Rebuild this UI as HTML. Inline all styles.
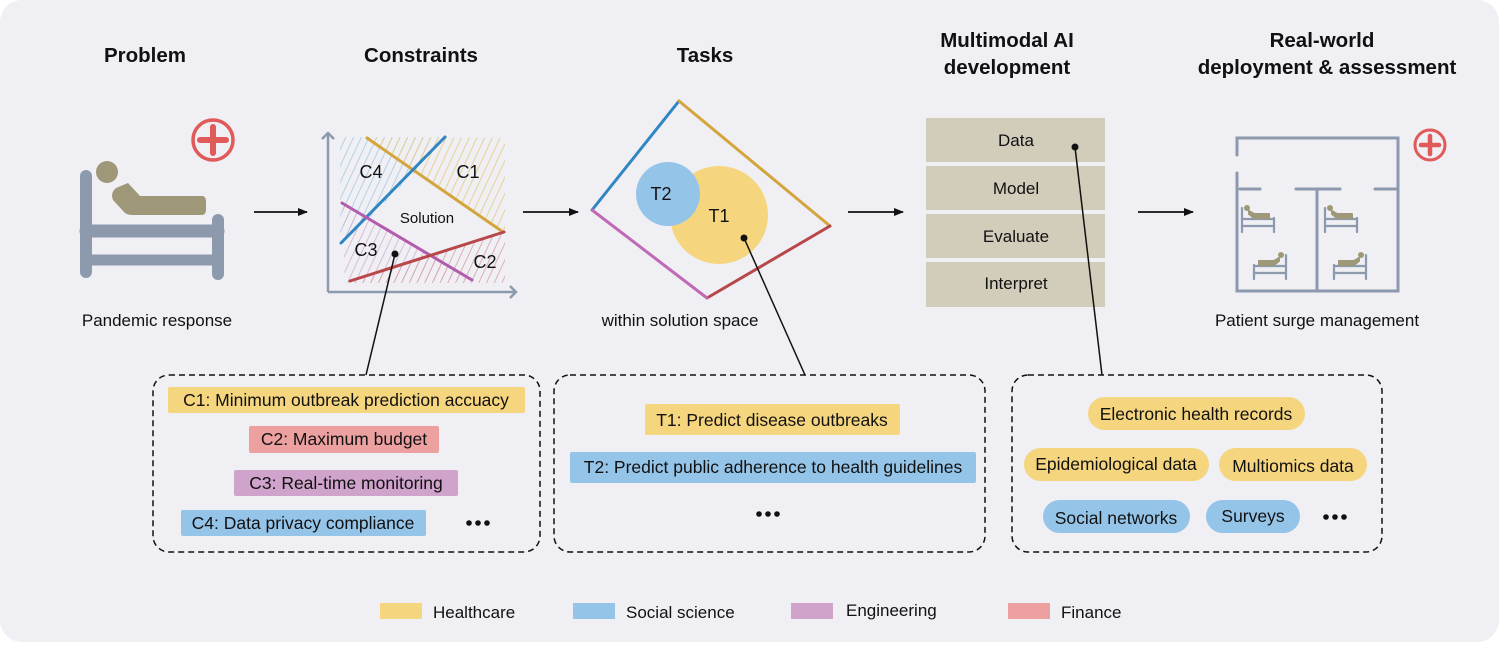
<!DOCTYPE html>
<html><head><meta charset="utf-8"><style>
html,body{margin:0;padding:0;background:#fff;}
svg{display:block;font-family:"Liberation Sans",Arial,sans-serif;}
</style></head><body>
<svg width="1499" height="650" viewBox="0 0 1499 650" xmlns="http://www.w3.org/2000/svg">
<defs>
<pattern id="hY" width="7" height="7" patternUnits="userSpaceOnUse" patternTransform="rotate(25)"><line x1="0" y1="0" x2="0" y2="7" stroke="#e6cf8f" stroke-width="1.6"/></pattern>
<pattern id="hB" width="7" height="7" patternUnits="userSpaceOnUse" patternTransform="rotate(25)"><line x1="0" y1="0" x2="0" y2="7" stroke="#a6c9e4" stroke-width="1.6"/></pattern>
<pattern id="hP" width="7" height="7" patternUnits="userSpaceOnUse" patternTransform="rotate(25)"><line x1="0" y1="0" x2="0" y2="7" stroke="#d6aed3" stroke-width="1.6"/></pattern>
<pattern id="hR" width="7" height="7" patternUnits="userSpaceOnUse" patternTransform="rotate(25)"><line x1="0" y1="0" x2="0" y2="7" stroke="#d8a0a8" stroke-width="1.6"/></pattern>
<marker id="ar" markerWidth="10" markerHeight="8" refX="9" refY="4" orient="auto" markerUnits="userSpaceOnUse"><path d="M0,0 L10,4 L0,8 Z" fill="#111"/></marker>
<marker id="ax" markerWidth="14" markerHeight="14" refX="7" refY="7" orient="auto" markerUnits="userSpaceOnUse"><path d="M1,1 L7,7 L1,13" fill="none" stroke="#8d9aae" stroke-width="2.5"/></marker>
</defs>
<rect x="0" y="0" width="1499" height="642" rx="22" fill="#efeff4"/>

<g font-weight="bold" font-size="20.5" fill="#111" text-anchor="middle">
<text x="145" y="62">Problem</text>
<text x="421" y="62">Constraints</text>
<text x="705" y="62">Tasks</text>
<text x="1007" y="47">Multimodal AI</text>
<text x="1007" y="74">development</text>
<text x="1322" y="47">Real-world</text>
<text x="1327" y="74">deployment &amp; assessment</text>
</g>

<!-- Problem icon -->
<circle cx="213" cy="140" r="20" fill="none" stroke="#e05a5a" stroke-width="3.5"/>
<line x1="200" y1="140" x2="226" y2="140" stroke="#e05a5a" stroke-width="6" stroke-linecap="round"/>
<line x1="213" y1="127" x2="213" y2="153" stroke="#e05a5a" stroke-width="6" stroke-linecap="round"/>
<g stroke="#8d9aae" stroke-linecap="round" fill="none">
<line x1="86" y1="176" x2="86" y2="272" stroke-width="12"/>
<line x1="218" y1="220" x2="218" y2="274" stroke-width="12"/>
<line x1="86" y1="231" x2="218" y2="231" stroke-width="13"/>
<line x1="86" y1="260" x2="218" y2="260" stroke-width="11"/>
</g>
<circle cx="107" cy="172" r="11" fill="#9e9878"/>
<path d="M116,188 L128,183 L140,196 L202,196 Q206,196 206,202 L206,210 Q206,215 201,215 L132,215 Q127,215 124,212 L113,200 Q110,193 116,188 Z" fill="#9e9878"/>
<text x="157" y="326" font-size="17" text-anchor="middle" fill="#111">Pandemic response</text>

<!-- arrows -->
<g stroke="#111" stroke-width="1.8" marker-end="url(#ar)">
<line x1="254" y1="212" x2="307" y2="212"/>
<line x1="523" y1="212" x2="578" y2="212"/>
<line x1="848" y1="212" x2="903" y2="212"/>
<line x1="1138" y1="212" x2="1193" y2="212"/>
</g>

<!-- Constraints chart -->
<polygon points="340,137 450,137 345,243 340,243" fill="url(#hB)"/>
<polygon points="367,138 505,138 505,232 " fill="url(#hY)"/>
<polygon points="345,137 505,137 505,232 367,138" fill="url(#hY)" opacity="0.5"/>
<polygon points="342,203 472,280 345,283" fill="url(#hP)"/>
<polygon points="350,283 505,232 505,283" fill="url(#hR)"/>
<g stroke-width="3" stroke-linecap="round">
<line x1="367" y1="138" x2="503" y2="232" stroke="#d4a53c"/>
<line x1="341" y1="243" x2="445" y2="137" stroke="#2f86c0"/>
<line x1="342" y1="203" x2="472" y2="280" stroke="#b35bac"/>
<line x1="350" y1="281" x2="504" y2="232" stroke="#b8474a"/>
</g>
<line x1="328" y1="292" x2="328" y2="133" stroke="#8d9aae" stroke-width="2.5" marker-end="url(#ax)"/>
<line x1="328" y1="292" x2="516" y2="292" stroke="#8d9aae" stroke-width="2.5" marker-end="url(#ax)"/>
<g font-size="18" fill="#111" text-anchor="middle">
<text x="371" y="178">C4</text><text x="468" y="178">C1</text>
<text x="366" y="256">C3</text><text x="485" y="268">C2</text>
</g>
<text x="427" y="223" font-size="15" text-anchor="middle" fill="#111">Solution</text>
<circle cx="395" cy="254" r="3.5" fill="#111"/>
<line x1="395" y1="254" x2="366" y2="375" stroke="#111" stroke-width="1.5"/>

<!-- Tasks -->
<g stroke-width="3" stroke-linecap="round">
<line x1="592" y1="210" x2="679" y2="101" stroke="#2f86c0"/>
<line x1="679" y1="101" x2="830" y2="226" stroke="#d4a53c"/>
<line x1="830" y1="226" x2="707" y2="298" stroke="#b8474a"/>
<line x1="707" y1="298" x2="592" y2="210" stroke="#c069b5"/>
</g>
<circle cx="719" cy="215" r="49" fill="#f5d67e"/>
<circle cx="668" cy="194" r="32" fill="#95c4e9"/>
<text x="661" y="200" font-size="18" text-anchor="middle" fill="#111">T2</text>
<text x="719" y="222" font-size="18" text-anchor="middle" fill="#111">T1</text>
<circle cx="744" cy="238" r="3.5" fill="#111"/>
<line x1="744" y1="238" x2="805" y2="375" stroke="#111" stroke-width="1.5"/>
<text x="680" y="326" font-size="17" text-anchor="middle" fill="#111">within solution space</text>

<!-- Multimodal -->
<g fill="#d2ccbb">
<rect x="926" y="118" width="179" height="44"/>
<rect x="926" y="166" width="179" height="44"/>
<rect x="926" y="214" width="179" height="44"/>
<rect x="926" y="262" width="179" height="45"/>
</g>
<g font-size="17" fill="#111" text-anchor="middle">
<text x="1016" y="146">Data</text><text x="1016" y="194">Model</text>
<text x="1016" y="242">Evaluate</text><text x="1016" y="289">Interpret</text>
</g>
<circle cx="1075" cy="147" r="3.5" fill="#111"/>
<line x1="1075" y1="147" x2="1102" y2="375" stroke="#111" stroke-width="1.5"/>

<!-- Real-world -->
<circle cx="1430" cy="145" r="15" fill="none" stroke="#e05a5a" stroke-width="3"/>
<line x1="1421" y1="145" x2="1439" y2="145" stroke="#e05a5a" stroke-width="4.5" stroke-linecap="round"/>
<line x1="1430" y1="136" x2="1430" y2="154" stroke="#e05a5a" stroke-width="4.5" stroke-linecap="round"/>
<g stroke="#8d9aae" stroke-width="3" fill="none" stroke-linecap="round">
<polyline points="1237,155 1237,138 1398,138 1398,291 1237,291 1237,173"/>
<line x1="1240" y1="189" x2="1260" y2="189"/>
<line x1="1296" y1="189" x2="1340" y2="189"/>
<line x1="1375" y1="189" x2="1396" y2="189"/>
<line x1="1317" y1="190" x2="1317" y2="290"/>
</g>
<g id="bd">
<g stroke="#8d9aae" stroke-width="2.2" fill="none" stroke-linecap="round">
<line x1="1242" y1="208" x2="1242" y2="232"/><line x1="1274" y1="218" x2="1274" y2="232"/>
<line x1="1242" y1="219" x2="1274" y2="219"/><line x1="1242" y1="226" x2="1274" y2="226"/>
</g>
<circle cx="1247" cy="208" r="3" fill="#9e9878"/>
<path d="M1249,211 L1254,214 L1269,214 L1269,218 L1254,218 L1249,214 Z" fill="#9e9878" stroke="#9e9878" stroke-width="2" stroke-linejoin="round"/>
</g>
<use href="#bd" x="83" y="0"/>
<g transform="translate(2528,47) scale(-1,1)"><use href="#bd" x="0" y="0"/></g>
<g transform="translate(2608,47) scale(-1,1)"><use href="#bd" x="0" y="0"/></g>
<text x="1317" y="326" font-size="17" text-anchor="middle" fill="#111">Patient surge management</text>

<!-- Dashed boxes -->
<g fill="none" stroke="#111" stroke-width="1.5" stroke-dasharray="6,4">
<rect x="153" y="375" width="387" height="177" rx="16"/>
<rect x="554" y="375" width="431" height="177" rx="16"/>
<rect x="1012" y="375" width="370" height="177" rx="16"/>
</g>

<g font-size="17.5" fill="#111" text-anchor="middle">
<rect x="168" y="387" width="357" height="26" rx="2" fill="#f5d67e"/><text x="346" y="406">C1: Minimum outbreak prediction accuacy</text>
<rect x="249" y="426" width="190" height="27" rx="2" fill="#eda0a0"/><text x="344" y="445">C2: Maximum budget</text>
<rect x="234" y="470" width="224" height="26" rx="2" fill="#cfa3cc"/><text x="346" y="489">C3: Real-time monitoring</text>
<rect x="181" y="510" width="245" height="26" rx="2" fill="#95c4e9"/><text x="303" y="529">C4: Data privacy compliance</text>

<rect x="645" y="404" width="255" height="31" rx="2" fill="#f5d67e"/><text x="772" y="426">T1: Predict disease outbreaks</text>
<rect x="570" y="452" width="406" height="31" rx="2" fill="#95c4e9"/><text x="773" y="473">T2: Predict public adherence to health guidelines</text>

<rect x="1088" y="397" width="217" height="33" rx="16.5" fill="#f5d67e"/><text x="1196" y="420">Electronic health records</text>
<rect x="1024" y="448" width="185" height="33" rx="16.5" fill="#f5d67e"/><text x="1116" y="470">Epidemiological data</text>
<rect x="1219" y="448" width="148" height="33" rx="16.5" fill="#f5d67e"/><text x="1293" y="472">Multiomics data</text>
<rect x="1043" y="500" width="147" height="33" rx="16.5" fill="#95c4e9"/><text x="1116" y="524">Social networks</text>
<rect x="1206" y="500" width="94" height="33" rx="16.5" fill="#95c4e9"/><text x="1253" y="522">Surveys</text>
</g>
<g fill="#111">
<circle cx="469" cy="523" r="2.8"/><circle cx="478" cy="523" r="2.8"/><circle cx="487" cy="523" r="2.8"/>
<circle cx="759" cy="514" r="2.8"/><circle cx="768" cy="514" r="2.8"/><circle cx="777" cy="514" r="2.8"/>
<circle cx="1326" cy="517" r="2.8"/><circle cx="1335" cy="517" r="2.8"/><circle cx="1344" cy="517" r="2.8"/>
</g>

<!-- Legend -->
<g font-size="17" fill="#111">
<rect x="380" y="603" width="42" height="16" fill="#f5d67e"/><text x="433" y="618">Healthcare</text>
<rect x="573" y="603" width="42" height="16" fill="#95c4e9"/><text x="626" y="618">Social science</text>
<rect x="791" y="603" width="42" height="16" fill="#cfa3cc"/><text x="846" y="616">Engineering</text>
<rect x="1008" y="603" width="42" height="16" fill="#eda0a0"/><text x="1061" y="618">Finance</text>
</g>
</svg>
</body></html>
